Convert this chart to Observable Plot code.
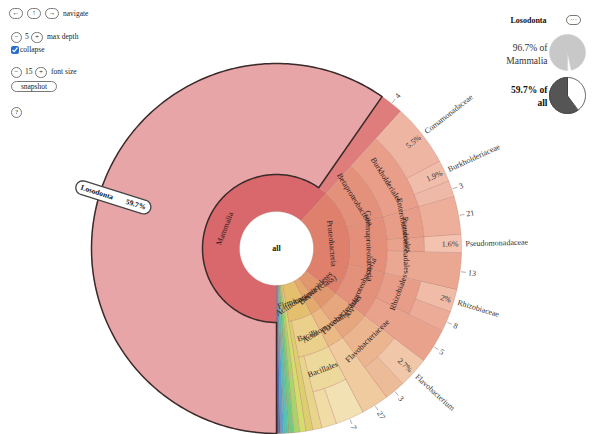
<!DOCTYPE html>
<html><head><meta charset="utf-8">
<script src="https://cdn.jsdelivr.net/npm/d3@7"></script>
<script src="https://cdn.jsdelivr.net/npm/@observablehq/plot@0.6"></script>
<style>
body{margin:0;background:#fff;}
#wrap{position:relative;width:595px;height:434px;overflow:hidden;font-family:"Liberation Serif","Times New Roman",serif;color:#222;}
#chart{position:absolute;left:0;top:0;}
.t{position:absolute;font-size:7.5px;line-height:10px;white-space:nowrap;}
.b{position:absolute;border:1px solid #777;border-radius:6px;background:#fff;height:11px;font-size:7px;line-height:9px;text-align:center;box-sizing:border-box;}
input.cb{position:absolute;margin:0;width:8px;height:8px;accent-color:#2a6fd0;}
</style></head>
<body>
<div id="wrap">
  <div id="chart"></div>
  <div class="b" style="left:9px;top:8px;width:14px">&larr;</div>
  <div class="b" style="left:27px;top:8px;width:14px">&uarr;</div>
  <div class="b" style="left:45px;top:8px;width:14px">&rarr;</div>
  <div class="t" style="left:63px;top:9px">navigate</div>
  <div class="b" style="left:11px;top:32px;width:11px">&minus;</div>
  <div class="t" style="left:25px;top:32px">5</div>
  <div class="b" style="left:31px;top:32px;width:12px">+</div>
  <div class="t" style="left:47px;top:32px">max depth</div>
  <input class="cb" type="checkbox" checked style="left:11px;top:46px">
  <div class="t" style="left:20px;top:45px">collapse</div>
  <div class="b" style="left:11px;top:67px;width:11px">&minus;</div>
  <div class="t" style="left:25px;top:67px">15</div>
  <div class="b" style="left:35px;top:67px;width:12px">+</div>
  <div class="t" style="left:51px;top:67px">font size</div>
  <div class="b" style="left:11px;top:81px;width:46px;height:11px;line-height:9px;font-size:7.5px">snapshot</div>
  <div class="b" style="left:11px;top:107px;width:11px;height:11px;line-height:9px">?</div>
  <div class="b" style="left:566px;top:15px;width:15px;height:10px;line-height:8px">&middot;&middot;&middot;</div>
</div>
<script>
// ---------- data ----------
const nodeIds = ["all","mam","loso","mamX","prot","beta","burk","coma","burkc","burkX","gamma","entero","enteroX","pseudo","pseudoc","gammaX","alpha","rhizo","rhizoc","rhizoX","alphaX","bact","flavo","flavoc","flavob","flavoX","actino","actinoM","actinoX","firm","bacilli","bacillales","bacX","bacY","bacilliX","firmX","p1","p2","p3","p4","p5","p6","p7"];
const nodeParents = [null,"all","mam","mam","all","prot","beta","burk","burk","burk","prot","gamma","entero","gamma","pseudo","gamma","prot","alpha","rhizo","rhizo","alpha","all","bact","flavo","flavoc","flavoc","all","actino","actinoM","all","firm","bacilli","bacillales","bacillales","bacilli","firm","all","all","all","all","all","all","all"];
const nodeLabels = ["all","Mammalia","Losodonta","4","Proteobacteria","Betaproteobacteria","Burkholderiales","Comamonadaceae","Burkholderiaceae","3","Gammaproteobacteria","Enterobacteriales","21","Pseudomonadales","Pseudomonadaceae","13","Alphaproteobacteria","Rhizobiales","Rhizobiaceae","8","5","Bacteroidetes","Flavobacteriales","Flavobacteriaceae","Flavobacterium","3","Actinobacteria (class)","Actinomycetales","27","Firmicutes","Bacilli","Bacillales","7","","","","","","","","","",""];
// magnitude (% of all) of each leaf; inner nodes are sums
const leafValues = [0,0,59.7,2.04,0,0,0,5.5,1.9,1.4,0,0,3.3,0,1.6,3.2,0,0,2.0,1.8,3.0,0,0,0,2.7,1.8,0,0,2.4,0,0,0,2.5,1.3,0.8,0.6,0.55,0.5,0.45,0.4,0.3,0.2,0.12];
const palette = ["#ffffff","#d8686b","#e8a5a8","#df7d7d","#de806c","#e4917c","#e89e88","#efb5a3","#f1bdab","#eeb9a6","#e48f79","#e89d88","#edae9a","#e9a28b","#f3c3b0","#eaa892","#e3917a","#e79d87","#f0bba7","#ebab96","#e9a28c","#e0976d","#e6a67e","#ebb58f","#f1c7a9","#ecbc98","#e4aa6d","#eab984","#efcb9f","#e4bf6d","#ead08a","#eed99d","#f2e2b3","#f0dca4","#e8d48a","#dccf6e","#d4dc6e","#a9d46c","#74c97e","#58c2ae","#52a4d2","#4570c4","#2b3580"];
const parentLabel = "Mammalia";

// ---------- layout ----------
const CX = 276, CY = 248, RING = 37, ROUT = 185, START = 180;
const nodes = nodeIds.map((id,i)=>({id, parent:nodeParents[i], label:nodeLabels[i], value:leafValues[i], color:palette[i], children:[]}));
const byId = new Map(nodes.map(n=>[n.id,n]));
nodes.forEach(n=>{ if(n.parent) byId.get(n.parent).children.push(n); });
function sum(n){ if(n.children.length) n.value = d3.sum(n.children, sum); return n.value; }
const root = byId.get("all"); sum(root); const total = root.value;
function layout(n,a0,depth){ n.a0=a0; n.a1=a0+n.value/total*360; n.depth=depth;
  n.r0=depth*RING; n.r1=n.children.length?(depth+1)*RING:ROUT; n.mid=(n.a0+n.a1)/2;
  let a=a0; for(const c of n.children){ layout(c,a,depth+1); a=c.a1; } }
layout(root,START,0);
const rad = d=>d*Math.PI/180;
const px = (cx,r,a)=>cx+r*Math.sin(rad(a));
const py = (cy,r,a)=>cy-r*Math.cos(rad(a));
function arcPoly(id,a0,a1,r0,r1,cx,cy,extra){
  const pts=[]; const n=Math.max(2,Math.ceil(Math.abs(a1-a0)/1.2));
  for(let i=0;i<=n;i++){const a=a0+(a1-a0)*i/n; pts.push({id,x:px(cx,r1,a),y:py(cy,r1,a),...extra});}
  if(r0<=0) pts.push({id,x:cx,y:cy,...extra});
  else for(let i=n;i>=0;i--){const a=a0+(a1-a0)*i/n; pts.push({id,x:px(cx,r0,a),y:py(cy,r0,a),...extra});}
  return pts;
}
const all = nodes.filter(n=>n.id!=="all");
const wedgePts = all.flatMap(n=>arcPoly(n.id,n.a0,n.a1,n.r0,n.r1,CX,CY,{fill:n.color}));
const loso = byId.get("loso"), mam = byId.get("mam");
const focusPts = arcPoly("focus",loso.a0,loso.a1,loso.r0,loso.r1,CX,CY,{});

const norm = a=>((a%360)+360)%360;
const tang = a=>{const m=norm(a); return (m>90&&m<270)?m-180:m;};
const fmt = v=>(Math.round(v*10)/10)+"%";
const pct = n=>n.value/total*100;

const innerLabels = all.filter(n=>n.children.length && n.label).map(n=>({text:n.label,x:px(CX,(n.r0+n.r1)/2,n.mid),y:py(CY,(n.r0+n.r1)/2,n.mid),rot:tang(n.mid)}));
const leaves = all.filter(n=>!n.children.length && n.label && n.id!=="loso");
const isNum = s=>/^\d+$/.test(s);
const numLeaves = leaves.filter(n=>isNum(n.label));
const nameLeaves = leaves.filter(n=>!isNum(n.label));
const numTicks = numLeaves.map(n=>({x1:px(CX,ROUT+1,n.mid),y1:py(CY,ROUT+1,n.mid),x2:px(CX,ROUT+6,n.mid),y2:py(CY,ROUT+6,n.mid)}));
const numText = numLeaves.map(n=>({text:n.label,x:px(CX,ROUT+8,n.mid),y:py(CY,ROUT+8,n.mid),rot:n.mid-90}));
const nameText = nameLeaves.map(n=>({text:n.label,x:px(CX,ROUT+4,n.mid),y:py(CY,ROUT+4,n.mid),rot:n.mid-90}));
const pctText = nameLeaves.map(n=>({text:fmt(pct(n)),x:px(CX,ROUT-3,n.mid),y:py(CY,ROUT-3,n.mid),rot:n.mid-90}));

// focus label box (radial, outer part of Losodonta)
const th = loso.mid, rc = 171, L = 39, H = 7;
const dir = [-Math.sin(rad(th)), Math.cos(rad(th))], perp = [-dir[1], dir[0]];
const bc = [px(CX,rc,th), py(CY,rc,th)];
const toXY = (u,v)=>({id:"box",x:bc[0]+u*dir[0]+v*perp[0],y:bc[1]+u*dir[1]+v*perp[1]});
const boxPts = [];
for(let k=0;k<=12;k++){const t=-Math.PI/2+Math.PI*k/12; boxPts.push(toXY(L-H+H*Math.cos(t),H*Math.sin(t)));}
for(let k=0;k<=12;k++){const t=Math.PI/2+Math.PI*k/12; boxPts.push(toXY(-(L-H)+H*Math.cos(t),H*Math.sin(t)));}
const boxRot = Math.atan2(dir[1],dir[0])*180/Math.PI;
const boxText = [{text:loso.label,...toXY(-L+5,0)}];
const boxPct = [{text:fmt(pct(loso)),...toXY(L-5,0)}];

// side panel pies
const P1 = [567,52], P2 = [567,95], PR = 18;
const shareParent = loso.value/mam.value, shareAll = loso.value/total;
const pie1 = arcPoly("pie1",180,180+shareParent*360,0,PR,P1[0],P1[1],{});
const pie2ring = arcPoly("pie2ring",0,360,0,PR,P2[0],P2[1],{});
const pie2 = arcPoly("pie2",360-shareAll*360,360,0,PR,P2[0],P2[1],{});
const side = [{text:loso.label,x:546,y:20}];
const sideReg = [{text:fmt(shareParent*100)+" of\n"+parentLabel,x:547,y:53}];
const sideBold = [{text:fmt(shareAll*100)+" of\nall",x:547,y:95}];

const font = "Liberation Serif, Times New Roman, serif";
const chart = Plot.plot({
  width:595, height:434, margin:0,
  x:{type:"identity",axis:null}, y:{type:"identity",axis:null},
  color:{type:"identity"},
  style:{fontFamily:font, background:"transparent"},
  marks:[
    Plot.line(wedgePts,{x:"x",y:"y",z:"id",fill:"fill",stroke:"#b9786c",strokeOpacity:0.45,strokeWidth:0.7,curve:"linear-closed"}),
    Plot.line(focusPts,{x:"x",y:"y",z:"id",fill:"none",stroke:"#3a2a2a",strokeWidth:1.5,curve:"linear-closed"}),
    Plot.text(innerLabels,{x:"x",y:"y",text:"text",rotate:"rot",fontSize:8,fill:"#2a1a1a"}),
    Plot.link(numTicks,{x1:"x1",y1:"y1",x2:"x2",y2:"y2",stroke:"#999",strokeWidth:0.8}),
    Plot.text(numText,{x:"x",y:"y",text:"text",rotate:"rot",fontSize:8,textAnchor:"start",fill:"#333"}),
    Plot.text(nameText,{x:"x",y:"y",text:"text",rotate:"rot",fontSize:8,textAnchor:"start",fill:"#333"}),
    Plot.text(pctText,{x:"x",y:"y",text:"text",rotate:"rot",fontSize:8,textAnchor:"end",fill:"#333"}),
    Plot.text([{text:"all",x:CX,y:CY}],{x:"x",y:"y",text:"text",fontSize:8,fontWeight:"bold",fill:"#111"}),
    Plot.line(boxPts,{x:"x",y:"y",z:"id",fill:"white",stroke:"#444",strokeWidth:1.3,curve:"linear-closed"}),
    Plot.text(boxText,{x:"x",y:"y",text:"text",rotate:boxRot,fontSize:7.5,fontWeight:"bold",textAnchor:"start",fill:"#111"}),
    Plot.text(boxPct,{x:"x",y:"y",text:"text",rotate:boxRot,fontSize:7.5,fontWeight:"bold",textAnchor:"end",fill:"#111"}),
    Plot.line(pie1,{x:"x",y:"y",z:"id",fill:"#c8c8c8",stroke:"#c8c8c8",strokeWidth:0.5,curve:"linear-closed"}),
    Plot.line(pie2ring,{x:"x",y:"y",z:"id",fill:"white",stroke:"#444",strokeWidth:1,curve:"linear-closed"}),
    Plot.line(pie2,{x:"x",y:"y",z:"id",fill:"#555",stroke:"#444",strokeWidth:1,curve:"linear-closed"}),
    Plot.text(side,{x:"x",y:"y",text:"text",fontSize:8,fontWeight:"bold",textAnchor:"end",fill:"#111"}),
    Plot.text(sideReg,{x:"x",y:"y",text:"text",fontSize:9.5,lineHeight:1.3,textAnchor:"end",fill:"#333"}),
    Plot.text(sideBold,{x:"x",y:"y",text:"text",fontSize:9.5,lineHeight:1.3,fontWeight:"bold",textAnchor:"end",fill:"#111"})
  ]
});
document.getElementById("chart").appendChild(chart);
</script>
</body></html>
